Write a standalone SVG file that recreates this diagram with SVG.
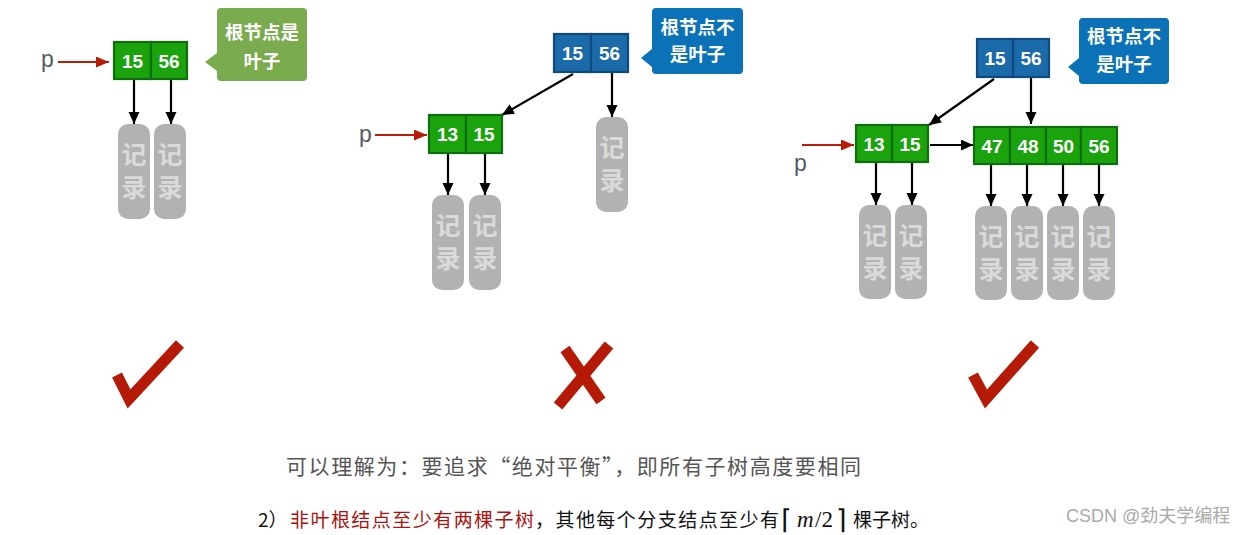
<svg xmlns="http://www.w3.org/2000/svg" width="1252" height="535" viewBox="0 0 1252 535">
<defs>
<marker id="ab" markerUnits="userSpaceOnUse" markerWidth="13" markerHeight="12" refX="12" refY="5.5" orient="auto"><path d="M0,0 L12,5.5 L0,11 z" fill="#000"/></marker>
<marker id="ar" markerUnits="userSpaceOnUse" markerWidth="14" markerHeight="12" refX="13" refY="5.5" orient="auto"><path d="M0,0 L13,5.5 L0,11 z" fill="#b81c08"/></marker>
<style>
.cg{fill:#1aa30d;stroke:#0e6e0e;stroke-width:2.2}
.cb{fill:#1b6aa9;stroke:#0f4a7c;stroke-width:2.2}
.num{font-family:"Liberation Sans",Arial,sans-serif;font-size:19px;font-weight:bold;fill:#fff;text-anchor:middle}
.rec{fill:#b2b2b2}
.rt{font-family:"Noto Sans CJK SC",sans-serif;font-size:25px;font-weight:bold;fill:#dadada;text-anchor:middle}
.co{font-family:"Noto Sans CJK SC",sans-serif;font-size:18.5px;font-weight:bold;fill:#fff;text-anchor:middle}
.p{font-family:"Liberation Sans",Arial,sans-serif;font-size:23px;fill:#555a66}
.e{stroke:#000;stroke-width:2.2;fill:none;marker-end:url(#ab)}
.er{stroke:#b81c08;stroke-width:2.2;fill:none;marker-end:url(#ar)}
.mk{stroke:#b51a06;stroke-width:11;fill:none;stroke-linejoin:miter}
</style>
</defs>
<rect width="1252" height="535" fill="#fff"/>

<g id="connectors">
<line class="er" x1="58" y1="62" x2="109" y2="62"/>
<line class="e" x1="134" y1="79" x2="134" y2="124"/>
<line class="e" x1="171" y1="79" x2="171" y2="124"/>

<line class="er" x1="375" y1="135" x2="427" y2="135"/>
<line class="e" x1="573" y1="74" x2="502" y2="115"/>
<line class="e" x1="612" y1="73" x2="612" y2="117"/>
<line class="e" x1="448" y1="153" x2="448" y2="195"/>
<line class="e" x1="485" y1="153" x2="485" y2="195"/>

<line class="er" x1="802" y1="145" x2="854" y2="145"/>
<line class="e" x1="994" y1="79" x2="929" y2="125"/>
<line class="e" x1="1031" y1="78" x2="1031" y2="124"/>
<line class="e" x1="930" y1="145" x2="973" y2="145"/>
<line class="e" x1="876" y1="162" x2="876" y2="205"/>
<line class="e" x1="912" y1="162" x2="912" y2="205"/>
<line class="e" x1="991" y1="164" x2="991" y2="206"/>
<line class="e" x1="1027" y1="164" x2="1027" y2="206"/>
<line class="e" x1="1063" y1="164" x2="1063" y2="206"/>
<line class="e" x1="1099" y1="164" x2="1099" y2="206"/>
</g>

<!-- Panel 1 -->
<text id="p1" class="p" x="41" y="67">p</text>
<g id="n1">
<rect class="cg" x="114" y="42" width="37" height="37"/><rect class="cg" x="151" y="42" width="36" height="37"/>
<text class="num" x="132.5" y="68">15</text><text class="num" x="169" y="68">56</text>
</g>
<g id="r1a"><rect class="rec" x="118" y="124" width="32" height="95" rx="10"/><text class="rt" x="134" y="164">记</text><text class="rt" x="134" y="197">录</text></g>
<g id="r1b"><rect class="rec" x="154" y="124" width="32" height="95" rx="10"/><text class="rt" x="170" y="164">记</text><text class="rt" x="170" y="197">录</text></g>
<g id="c1">
<path d="M221,8 H303 Q307,8 307,12 V77 Q307,81 303,81 H221 Q217,81 217,77 V71 L205,62 L217,53 V12 Q217,8 221,8 Z" fill="#7aab4f"/>
<text class="co" x="262" y="39">根节点是</text><text class="co" x="262" y="68">叶子</text>
</g>
<g id="ok1"><polyline class="mk" points="117,375 129,399 180,344"/></g>

<!-- Panel 2 -->
<text id="p2" class="p" x="359" y="141.5">p</text>
<g id="n2root">
<rect class="cb" x="554" y="34" width="37" height="38"/><rect class="cb" x="591" y="34" width="37" height="38"/>
<text class="num" x="572.5" y="60">15</text><text class="num" x="609.5" y="60">56</text>
</g>
<g id="n2leaf">
<rect class="cg" x="429" y="115" width="37" height="38"/><rect class="cg" x="466" y="115" width="36" height="38"/>
<text class="num" x="447.5" y="141">13</text><text class="num" x="484" y="141">15</text>
</g>
<g id="r2a"><rect class="rec" x="432" y="195" width="32" height="95" rx="10"/><text class="rt" x="448" y="235">记</text><text class="rt" x="448" y="268">录</text></g>
<g id="r2b"><rect class="rec" x="469" y="195" width="32" height="95" rx="10"/><text class="rt" x="485" y="235">记</text><text class="rt" x="485" y="268">录</text></g>
<g id="r2c"><rect class="rec" x="596" y="117" width="32" height="95" rx="10"/><text class="rt" x="612" y="157">记</text><text class="rt" x="612" y="190">录</text></g>
<g id="c2">
<path d="M656,8 H739 Q743,8 743,12 V70 Q743,74 739,74 H656 Q652,74 652,70 V67 L641,58 L652,49 V12 Q652,8 656,8 Z" fill="#0b72b8"/>
<text class="co" x="697.5" y="34">根节点不</text><text class="co" x="697.5" y="61">是叶子</text>
</g>
<g id="no2"><line class="mk" x1="565" y1="349" x2="601" y2="401" stroke-width="12"/><line class="mk" x1="609" y1="345" x2="558" y2="406" stroke-width="12"/></g>

<!-- Panel 3 -->
<text id="p3" class="p" x="794" y="170.5">p</text>
<g id="n3root">
<rect class="cb" x="977" y="39" width="36" height="38"/><rect class="cb" x="1013" y="39" width="36" height="38"/>
<text class="num" x="995" y="65">15</text><text class="num" x="1031" y="65">56</text>
</g>
<g id="n3left">
<rect class="cg" x="856" y="125" width="36" height="37"/><rect class="cg" x="892" y="125" width="36" height="37"/>
<text class="num" x="874" y="150.5">13</text><text class="num" x="910" y="150.5">15</text>
</g>
<g id="n3right">
<rect class="cg" x="974" y="127" width="36" height="37"/><rect class="cg" x="1010" y="127" width="36" height="37"/><rect class="cg" x="1046" y="127" width="35" height="37"/><rect class="cg" x="1081" y="127" width="36" height="37"/>
<text class="num" x="992" y="152.5">47</text><text class="num" x="1028" y="152.5">48</text><text class="num" x="1063.5" y="152.5">50</text><text class="num" x="1099" y="152.5">56</text>
</g>
<g id="r3a"><rect class="rec" x="859" y="205" width="32" height="94" rx="10"/><text class="rt" x="875" y="245">记</text><text class="rt" x="875" y="278">录</text></g>
<g id="r3b"><rect class="rec" x="895" y="205" width="32" height="94" rx="10"/><text class="rt" x="911" y="245">记</text><text class="rt" x="911" y="278">录</text></g>
<g id="r3c"><rect class="rec" x="975" y="206" width="32" height="94" rx="10"/><text class="rt" x="991" y="246">记</text><text class="rt" x="991" y="279">录</text></g>
<g id="r3d"><rect class="rec" x="1011" y="206" width="32" height="94" rx="10"/><text class="rt" x="1027" y="246">记</text><text class="rt" x="1027" y="279">录</text></g>
<g id="r3e"><rect class="rec" x="1047" y="206" width="32" height="94" rx="10"/><text class="rt" x="1063" y="246">记</text><text class="rt" x="1063" y="279">录</text></g>
<g id="r3f"><rect class="rec" x="1083" y="206" width="32" height="94" rx="10"/><text class="rt" x="1099" y="246">记</text><text class="rt" x="1099" y="279">录</text></g>
<g id="c3">
<path d="M1083,18 H1165 Q1169,18 1169,22 V80 Q1169,84 1165,84 H1083 Q1079,84 1079,80 V76 L1068,67 L1079,58 V22 Q1079,18 1083,18 Z" fill="#0b72b8"/>
<text class="co" x="1124" y="43">根节点不</text><text class="co" x="1124" y="71">是叶子</text>
</g>
<g id="ok3"><polyline class="mk" points="973,375 986,399 1035,344"/></g>

<!-- Bottom text -->
<text x="286" y="474" font-family="'Noto Sans CJK SC',sans-serif" font-size="21" fill="#555" textLength="575" lengthAdjust="spacing">可以理解为：要追求“绝对平衡”，即所有子树高度要相同</text>
<g font-family="'Noto Sans CJK SC',sans-serif" font-size="19">
<text x="258" y="527" fill="#111">2）</text>
<text x="290" y="527" fill="#a8130f" textLength="244" lengthAdjust="spacing">非叶根结点至少有两棵子树</text>
<text x="535" y="527" fill="#111" textLength="244" lengthAdjust="spacing">，其他每个分支结点至少有</text>
<text x="781" y="529" fill="#111" font-family="'DejaVu Sans',sans-serif" font-size="27">⌈</text>
<text x="797" y="527" fill="#111" font-family="'Liberation Serif',serif" font-size="23" font-style="italic">m</text>
<text x="815" y="527" fill="#111" font-family="'Liberation Serif',serif" font-size="23">/2</text>
<text x="836" y="529" fill="#111" font-family="'DejaVu Sans',sans-serif" font-size="27">⌉</text>
<text x="853" y="527" fill="#111">棵子树。</text>
</g>
<text x="1066" y="522" font-family="'Liberation Sans','Noto Sans CJK SC',sans-serif" font-size="18" fill="#aaa">CSDN @劲夫学编程</text>
</svg>
